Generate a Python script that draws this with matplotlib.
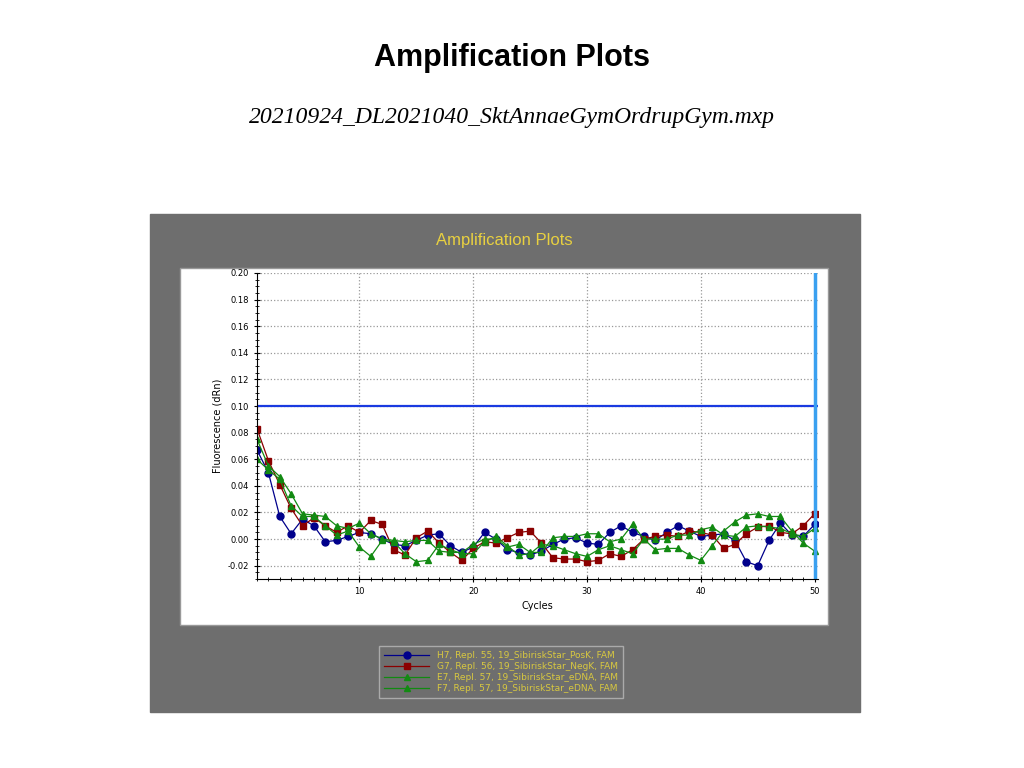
import matplotlib
matplotlib.use("Agg")
import matplotlib.pyplot as plt
from matplotlib.patches import Rectangle
from matplotlib.ticker import MultipleLocator

cycles = list(range(1, 51))
h7 = [0.067,0.050,0.017,0.004,0.015,0.010,-0.002,-0.001,0.002,0.005,0.004,0.000,-0.004,-0.005,-0.001,0.003,0.004,-0.005,-0.010,-0.006,
      0.005,0.000,-0.008,-0.010,-0.012,-0.009,-0.004,0.000,0.001,-0.003,-0.004,0.005,0.010,0.005,0.002,-0.001,0.005,0.010,0.006,0.002,
      0.003,0.004,-0.001,-0.017,-0.020,-0.001,0.012,0.003,0.002,0.011]
g7 = [0.083,0.059,0.041,0.023,0.010,0.016,0.010,0.005,0.010,0.005,0.014,0.011,-0.008,-0.012,0.001,0.006,-0.003,-0.010,-0.016,-0.007,
      -0.002,-0.003,0.001,0.005,0.006,-0.003,-0.014,-0.015,-0.015,-0.017,-0.016,-0.011,-0.013,-0.008,0.000,0.002,0.003,0.002,0.006,0.005,
      0.003,-0.007,-0.004,0.004,0.009,0.010,0.005,0.004,0.010,0.019]
e7 = [0.075,0.055,0.047,0.034,0.019,0.018,0.017,0.010,0.008,0.012,0.004,0.000,-0.001,-0.002,-0.001,-0.001,-0.009,-0.010,-0.010,-0.004,
      0.000,0.000,-0.006,-0.004,-0.010,-0.010,0.001,0.002,0.002,0.004,0.004,-0.002,0.000,0.011,0.000,0.000,0.000,0.003,0.003,0.007,
      0.009,0.003,0.002,0.009,0.010,0.009,0.008,0.004,0.002,0.008]
f7 = [0.060,0.052,0.045,0.025,0.017,0.017,0.010,0.003,0.006,-0.006,-0.013,-0.001,-0.002,-0.011,-0.017,-0.016,-0.004,-0.008,-0.011,-0.011,
      -0.002,0.002,-0.005,-0.012,-0.011,-0.004,-0.005,-0.008,-0.011,-0.013,-0.008,-0.005,-0.008,-0.011,0.000,-0.008,-0.007,-0.007,-0.012,-0.016,
      -0.005,0.006,0.013,0.018,0.019,0.017,0.017,0.006,-0.003,-0.009]
labels = ["H7, Repl. 55, 19_SibiriskStar_PosK, FAM",
          "G7, Repl. 56, 19_SibiriskStar_NegK, FAM",
          "E7, Repl. 57, 19_SibiriskStar_eDNA, FAM",
          "F7, Repl. 57, 19_SibiriskStar_eDNA, FAM"]
threshold = 0.10

W, H = 1024, 768
fig = plt.figure(figsize=(W/100, H/100), dpi=100)
def fx(x): return x / W
def fy(y): return 1 - y / H

fig.text(0.5, fy(58), "Amplification Plots", ha="center", va="center", fontsize=22, fontweight="bold", family="Liberation Sans")
fig.text(0.5, fy(118), "20210924_DL2021040_SktAnnaeGymOrdrupGym.mxp", ha="center", va="center",
         fontsize=17, style="italic", family="Liberation Serif")

fig.patches.append(Rectangle((fx(150), fy(712)), fx(710), 498/H, transform=fig.transFigure, color="#6e6e6e", zorder=0))
fig.patches.append(Rectangle((fx(180), fy(625)), fx(648), 357/H, transform=fig.transFigure, facecolor="white",
                             edgecolor="#999999", zorder=1))
fig.text(fx(504), fy(241), "Amplification Plots", ha="center", va="center", fontsize=12, color="#e8d040", family="Liberation Sans")

ax = fig.add_axes([fx(257), fy(579), fx(818-257), (579-273)/H])
ax.set_zorder(2)
colors = ["#00008b", "#8b0000", "#128a12", "#128a12"]
markers = ["o", "s", "^", "^"]
lines = []
for d, c, m, lab in zip([h7, g7, e7, f7], colors, markers, labels):
    l, = ax.plot(cycles, d, color=c, marker=m, markersize=5, linewidth=0.9, label=lab)
    lines.append(l)
ax.axhline(threshold, color="#1a3ae0", linewidth=1.6)
ax.axvline(50, color="#3aa0f0", linewidth=2.5)
ax.set_xlim(1, 50.3)
ax.set_ylim(-0.03, 0.20)
ax.set_xticks([10, 20, 30, 40, 50])
ax.xaxis.set_minor_locator(MultipleLocator(1))
ax.set_yticks([-0.02 + 0.02*i for i in range(12)])
ax.yaxis.set_minor_locator(MultipleLocator(0.005))
ax.set_yticklabels([f"{v:.2f}" for v in ax.get_yticks()])
ax.tick_params(labelsize=6, length=4, direction="inout")
ax.tick_params(which="minor", length=3, direction="inout")
ax.grid(True, linestyle=":", color="#999999", linewidth=0.9)
for s in ["top", "right"]:
    ax.spines[s].set_visible(False)
ax.set_xlabel("Cycles", fontsize=7)
ax.set_ylabel("Fluorescence (dRn)", fontsize=7)

leg = fig.legend(handles=lines, loc="center", bbox_to_anchor=(fx(501), fy(672)), fontsize=6.5,
                 facecolor="#6e6e6e", edgecolor="#aaaaaa", labelcolor="#d8c840", framealpha=1,
                 handlelength=5, borderpad=0.6, labelspacing=0.2, fancybox=False)
fig.savefig("out.png", dpi=100, facecolor="white")
